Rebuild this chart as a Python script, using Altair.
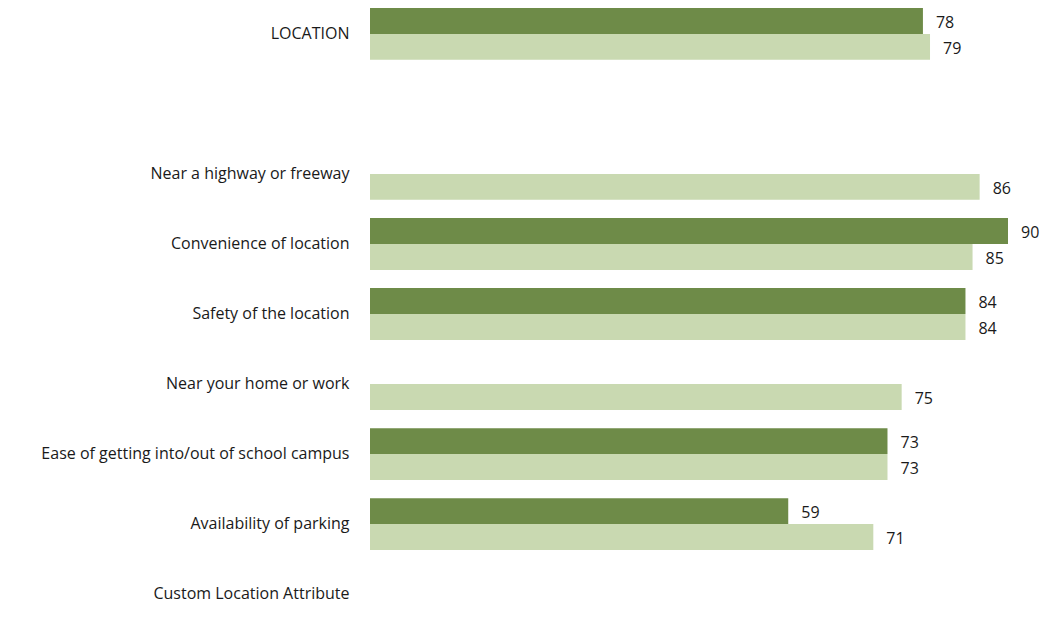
import altair as alt
import pandas as pd

categories = [
    "LOCATION",
    " ",
    "Near a highway or freeway",
    "Convenience of location",
    "Safety of the location",
    "Near your home or work",
    "Ease of getting into/out of school campus",
    "Availability of parking",
    "Custom Location Attribute",
]
series_names = ["Series 1", "Series 2"]
series1 = [78, None, None, 90, 84, None, 73, 59, None]
series2 = [79, None, 86, 85, 84, 75, 73, 71, None]
colors = ["#6E8B48", "#C9D9B1"]

rows = []
for name, vals in zip(series_names, [series1, series2]):
    for cat, v in zip(categories, vals):
        if v is not None:
            rows.append({"category": cat, "series": name, "value": v})
df = pd.DataFrame(rows)

font = "Open Sans"

y_enc = alt.Y(
    "category:N",
    sort=categories,
    scale=alt.Scale(domain=categories, range=[0, 612], paddingInner=0.26, paddingOuter=0),
    axis=alt.Axis(
        title=None, domain=False, ticks=False, labelPadding=21, labelOffset=0,
        labelFont=font, labelFontSize=16, labelColor="#1a1a1a", labelLimit=400,
    ),
)
yoff = alt.YOffset("series:N", scale=alt.Scale(domain=series_names, paddingInner=0, paddingOuter=0))
x_enc = alt.X("value:Q", scale=alt.Scale(domain=[0, 90], nice=False, zero=True), axis=None)

bars = alt.Chart(df).mark_bar().encode(
    y=y_enc,
    yOffset=yoff,
    x=x_enc,
    color=alt.Color("series:N", scale=alt.Scale(domain=series_names, range=colors), legend=None),
)

labels = alt.Chart(df).mark_text(
    align="left", baseline="middle", dx=13, dy=2, font=font, fontSize=16, color="#1a1a1a"
).encode(
    y=y_enc,
    yOffset=yoff,
    x=x_enc,
    text=alt.Text("value:Q"),
)

chart = (
    alt.layer(bars, labels)
    .properties(
        width=638,
        height=600,
        autosize=alt.AutoSizeParams(type="none"),
        padding={"left": 362, "top": 0, "right": 32, "bottom": 0},
    )
    .configure_view(stroke=None)
)

chart.save("out.html", embed_options={"renderer": "svg", "actions": False})
